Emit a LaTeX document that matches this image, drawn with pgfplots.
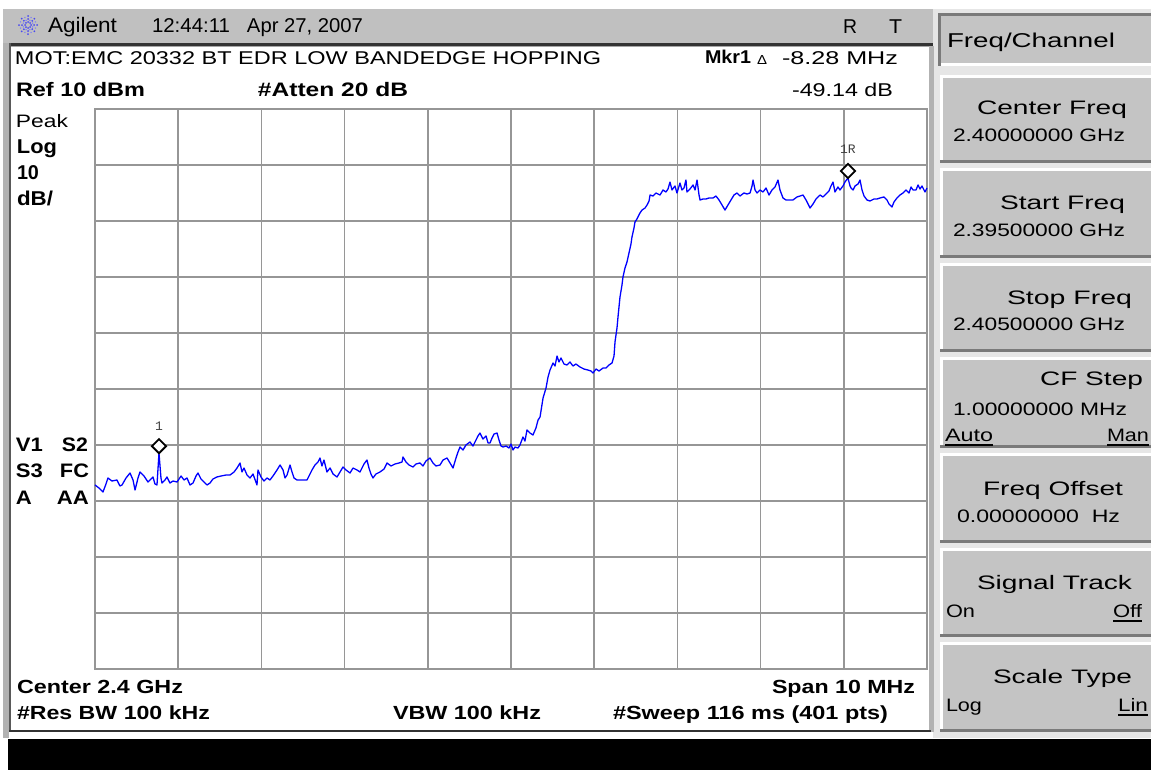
\documentclass[border=0pt]{standalone}
\usepackage{pgfplots}
\pgfplotsset{compat=1.18}
\usepackage{graphicx}
\usepackage{fontspec}
\setmainfont{Liberation Sans}
\newfontfamily\mono{Liberation Mono}
\definecolor{gridgray}{HTML}{969696}
\definecolor{bargray}{HTML}{C0C0C0}
\definecolor{panelgray}{HTML}{E6E6E6}
\definecolor{btngray}{HTML}{C4C4C4}
\definecolor{darkedge}{HTML}{7A7A7A}
\definecolor{traceblue}{HTML}{0000FF}
\definecolor{logoblue}{HTML}{4A4AF0}
\definecolor{markgray}{HTML}{404040}
\newcommand\fs[1]{\fontsize{#1bp}{#1bp}\selectfont}
\newcommand\tx[4]{\node[anchor=base west,inner sep=0pt,outer sep=0pt] at (#1,#2) {\resizebox{#3bp}{\height}{#4}};}
\newcommand\btn[2]{%
  \fill[btngray] (940,#1) rectangle (1151,#2);
  \fill[white] (940,#1) rectangle (1151,#1+3);
  \fill[white] (940,#1) rectangle (943,#2);
  \fill[darkedge] (940,#2-3) rectangle (1151,#2);}
\begin{document}
\begin{tikzpicture}
\useasboundingbox (0,0) rectangle (1151bp,-770bp);
\begin{scope}[x=1bp,y=-1bp]
\fill[white] (0,0) rectangle (1151,770);
% right soft-key panel
\fill[panelgray] (933,9) rectangle (1151,738);
\fill[btngray] (938,13) rectangle (1151,66);
\fill[darkedge] (938,13) rectangle (1151,16);
\fill[darkedge] (938,13) rectangle (941,66);
\fill[white] (941,63) rectangle (1151,66);
\btn{75}{163}
\btn{168}{258}
\btn{263}{352}
\btn{357}{448}
\btn{453}{543}
\btn{548}{637}
\btn{642}{732}
% title bar and frame
\fill[bargray] (3,9) rectangle (933,43);
\fill[black!80] (9,43) rectangle (933,46);
\fill[black!35] (9,46) rectangle (933,47);
\fill[black!30] (3,43) rectangle (9,738);
\fill[black!65] (9,43) rectangle (11,732);
\fill[black!30] (929,46) rectangle (934,732);
\fill[black!80] (9,730) rectangle (931,732);
\fill[black] (8,739) rectangle (1151,770);
% logo
\foreach \a in {0,45,...,315} {
  \foreach \r in {3,6,9} {\fill[logoblue] (28,25) ++(\a:\r) circle (1);}}
\foreach \a in {22.5,67.5,...,337.5} {
  \foreach \r in {5,8} {\fill[logoblue!70] (28,25) ++(\a:\r) circle (0.8);}}
\end{scope}
\begin{axis}[at={(95bp,-669bp)}, anchor=south west, scale only axis,
  width=832bp, height=560bp, xmin=0, xmax=10, ymin=-90, ymax=10,
  xtick={0,1,...,10}, ytick={-90,-80,...,10},
  xticklabels={}, yticklabels={}, major tick length=0pt, tick style={draw=none},
  grid=major, grid style={draw=gridgray, line width=1.7bp},
  axis line style={draw=gridgray, line width=2.2bp}, clip=false]
% frequency in MHz above the start frequency 2.395 GHz, level in dBm
\addplot[color=traceblue, line width=1.3bp, line join=round] coordinates {
(0.000,-57.14) (0.048,-57.68) (0.096,-58.39) (0.132,-56.96) (0.156,-55.89)
(0.204,-56.43) (0.264,-56.25) (0.300,-57.32) (0.325,-57.14) (0.373,-55.89)
(0.421,-55.00) (0.457,-56.25) (0.481,-58.04) (0.517,-55.89) (0.541,-54.82)
(0.589,-55.54) (0.637,-56.61) (0.673,-56.07) (0.697,-55.71) (0.721,-56.96)
(0.745,-57.14) (0.769,-51.46) (0.793,-55.89) (0.805,-56.79) (0.841,-56.25)
(0.865,-55.71) (0.901,-56.79) (0.938,-56.43) (0.986,-56.61) (1.034,-55.54)
(1.070,-56.25) (1.106,-55.89) (1.142,-57.14) (1.178,-56.79) (1.214,-55.54)
(1.238,-55.00) (1.274,-56.07) (1.310,-56.61) (1.346,-57.14) (1.382,-56.79)
(1.418,-56.07) (1.466,-55.71) (1.514,-55.54) (1.575,-55.36) (1.623,-55.36)
(1.671,-54.82) (1.707,-54.11) (1.743,-53.21) (1.767,-54.82) (1.791,-54.11)
(1.827,-55.36) (1.863,-55.89) (1.899,-55.18) (1.947,-57.14) (1.959,-54.46)
(1.995,-55.71) (2.031,-56.43) (2.067,-55.89) (2.103,-56.25) (2.139,-55.54)
(2.188,-54.46) (2.224,-53.57) (2.260,-54.46) (2.284,-55.89) (2.308,-55.36)
(2.344,-53.57) (2.368,-54.82) (2.392,-55.89) (2.428,-56.25) (2.464,-56.25)
(2.512,-56.25) (2.548,-56.25) (2.584,-55.18) (2.608,-54.46) (2.644,-53.57)
(2.680,-53.04) (2.704,-52.32) (2.728,-53.75) (2.752,-52.68) (2.788,-54.82)
(2.825,-54.11) (2.861,-55.18) (2.909,-55.71) (2.945,-54.82) (2.981,-53.93)
(3.017,-54.46) (3.065,-55.00) (3.101,-54.11) (3.149,-54.46) (3.185,-54.82)
(3.233,-53.39) (3.269,-52.68) (3.293,-54.11) (3.317,-55.18) (3.341,-55.89)
(3.377,-55.18) (3.425,-54.82) (3.474,-54.29) (3.510,-53.21) (3.558,-53.75)
(3.606,-53.39) (3.654,-53.21) (3.690,-53.04) (3.702,-52.14) (3.738,-53.04)
(3.774,-53.57) (3.822,-53.93) (3.858,-53.39) (3.906,-53.21) (3.942,-53.75)
(3.978,-52.86) (4.026,-52.32) (4.062,-53.21) (4.099,-53.75) (4.147,-53.57)
(4.183,-52.68) (4.231,-52.32) (4.267,-53.21) (4.303,-54.11) (4.339,-52.32)
(4.363,-51.25) (4.387,-50.36) (4.423,-50.89) (4.459,-50.00) (4.507,-49.46)
(4.543,-50.18) (4.579,-49.11) (4.603,-48.39) (4.627,-47.86) (4.663,-48.93)
(4.700,-48.39) (4.724,-49.64) (4.748,-49.64) (4.772,-48.75) (4.796,-48.04)
(4.832,-47.86) (4.856,-49.11) (4.880,-50.18) (4.904,-50.36) (4.940,-50.18)
(4.976,-50.54) (5.000,-49.82) (5.024,-50.89) (5.048,-50.36) (5.084,-50.54)
(5.108,-50.00) (5.144,-48.57) (5.168,-49.29) (5.192,-47.32) (5.228,-47.86)
(5.264,-48.21) (5.300,-46.96) (5.325,-45.54) (5.349,-45.00) (5.385,-41.61)
(5.421,-39.82) (5.445,-37.86) (5.469,-36.61) (5.505,-35.36) (5.529,-35.89)
(5.553,-34.11) (5.577,-35.18) (5.601,-34.46) (5.637,-35.54) (5.673,-35.71)
(5.709,-35.18) (5.745,-35.89) (5.781,-35.54) (5.829,-36.07) (5.877,-36.43)
(5.925,-36.61) (5.962,-36.79) (5.986,-37.14) (6.022,-36.43) (6.058,-36.79)
(6.106,-36.25) (6.142,-36.25) (6.178,-35.71) (6.214,-35.36) (6.238,-34.11)
(6.250,-31.61) (6.274,-29.11) (6.286,-27.14) (6.298,-25.36) (6.310,-23.57)
(6.334,-21.43) (6.346,-20.00) (6.370,-18.39) (6.394,-17.32) (6.418,-15.71)
(6.442,-14.11) (6.454,-12.86) (6.478,-11.25) (6.490,-10.18) (6.514,-9.64)
(6.550,-8.57) (6.575,-8.04) (6.611,-7.68) (6.635,-7.14) (6.659,-6.43)
(6.671,-5.36) (6.707,-5.54) (6.743,-5.00) (6.791,-5.36) (6.827,-4.46)
(6.863,-4.82) (6.887,-4.29) (6.911,-3.04) (6.935,-4.46) (6.971,-3.75)
(6.995,-5.00) (7.031,-3.21) (7.055,-4.46) (7.079,-4.11) (7.103,-2.68)
(7.115,-4.82) (7.151,-4.29) (7.188,-3.57) (7.212,-4.46) (7.236,-2.68)
(7.260,-5.36) (7.272,-6.25) (7.308,-6.07) (7.344,-6.07) (7.380,-5.89)
(7.428,-5.89) (7.464,-5.54) (7.500,-6.25) (7.536,-7.14) (7.572,-8.04)
(7.608,-7.14) (7.644,-6.25) (7.680,-5.36) (7.716,-5.00) (7.752,-5.54)
(7.800,-5.00) (7.837,-5.18) (7.873,-5.00) (7.897,-3.75) (7.909,-2.68)
(7.933,-4.46) (7.957,-5.00) (7.993,-4.46) (8.029,-4.82) (8.065,-4.11)
(8.101,-5.36) (8.137,-4.46) (8.173,-3.93) (8.209,-2.68) (8.233,-4.46)
(8.269,-5.89) (8.305,-6.25) (8.353,-6.25) (8.389,-6.25) (8.437,-5.71)
(8.474,-5.54) (8.510,-5.36) (8.546,-6.25) (8.594,-7.68) (8.630,-6.96)
(8.666,-6.07) (8.714,-5.36) (8.750,-5.71) (8.786,-5.18) (8.822,-4.64)
(8.846,-3.75) (8.870,-3.04) (8.894,-4.82) (8.930,-3.93) (8.954,-4.46)
(8.990,-3.75) (9.014,-3.04) (9.050,-2.32) (9.075,-3.75) (9.087,-4.11)
(9.111,-4.46) (9.135,-3.75) (9.171,-3.39) (9.195,-2.68) (9.219,-4.46)
(9.243,-5.54) (9.279,-6.25) (9.315,-6.43) (9.363,-6.07) (9.399,-6.07)
(9.435,-5.89) (9.483,-5.71) (9.519,-6.25) (9.543,-6.96) (9.579,-7.50)
(9.603,-6.61) (9.639,-5.89) (9.675,-5.36) (9.712,-5.00) (9.748,-4.46)
(9.784,-5.00) (9.808,-3.93) (9.832,-4.46) (9.868,-4.46) (9.892,-3.57)
(9.916,-4.29) (9.940,-3.75) (9.976,-4.82) (10.000,-4.11)
};
% markers 1 and 1R
\addplot[only marks, mark=square*, mark size=5bp,
  mark options={draw=black, fill=white, line width=1.8bp, yshift=7bp, rotate=45}]
  coordinates {(0.769,-51.46) (9.050,-2.32)};
\node[text=markgray, font=\mono\fs{13}, yshift=27bp] at (axis cs:0.769,-51.46) {1};
\node[text=markgray, font=\mono\fs{13}, yshift=29bp] at (axis cs:9.050,-2.32) {1R};
\end{axis}
\begin{scope}[x=1bp,y=-1bp]
% title bar
\tx{48}{33}{69}{\fs{21}Agilent}
\tx{152}{33}{78}{\fs{20}12:44:11}
\tx{247}{33}{116}{\fs{20}Apr 27, 2007}
\tx{843}{33}{14}{\fs{20}R}
\tx{889}{33}{13}{\fs{20}T}
% header
\tx{15}{64}{586}{\fs{18.5}MOT:EMC 20332 BT EDR LOW BANDEDGE HOPPING}
\tx{705}{64}{46}{\fs{18.5}\bfseries Mkr1}
\tx{757}{64}{10}{\fs{13}Δ}
\tx{782}{64}{116}{\fs{18.5}-8.28 MHz}
\tx{16}{97}{129}{\fs{19.5}\bfseries Ref 10 dBm}
\tx{258}{97}{150}{\fs{19.5}\bfseries \#Atten 20 dB}
\tx{792}{97}{101}{\fs{18.5}-49.14 dB}
% left annotations
\tx{16}{127}{52}{\fs{18}Peak}
\tx{17}{153}{40}{\fs{20}\bfseries Log}
\tx{17}{180}{22}{\fs{20}\bfseries 10}
\tx{17}{206}{36}{\fs{20}\bfseries dB/}
\tx{16}{451}{27}{\fs{19.5}\bfseries V1}
\tx{62}{451}{26}{\fs{19.5}\bfseries S2}
\tx{16}{477}{27}{\fs{19.5}\bfseries S3}
\tx{60}{477}{29}{\fs{19.5}\bfseries FC}
\tx{16}{504}{16}{\fs{19.5}\bfseries A}
\tx{57}{504}{32}{\fs{19.5}\bfseries AA}
% footer
\tx{17}{693}{166}{\fs{19}\bfseries Center 2.4 GHz}
\tx{772}{693}{143}{\fs{19}\bfseries Span 10 MHz}
\tx{17}{719}{193}{\fs{19}\bfseries \#Res BW 100 kHz}
\tx{393}{719}{148}{\fs{19}\bfseries VBW 100 kHz}
\tx{613}{719}{275}{\fs{19}\bfseries \#Sweep 116 ms (401 pts)}
% soft keys
\tx{947}{48}{168}{\fs{20}Freq/Channel}
\tx{977}{114}{150}{\fs{19.5}Center Freq}
\tx{953}{142}{172}{\fs{18}2.40000000 GHz}
\tx{1000}{209}{125}{\fs{19.5}Start Freq}
\tx{953}{237}{172}{\fs{18}2.39500000 GHz}
\tx{1007}{304}{125}{\fs{19.5}Stop Freq}
\tx{953}{331}{172}{\fs{18}2.40500000 GHz}
\tx{1040}{385}{103}{\fs{19.5}CF Step}
\tx{953}{415}{174}{\fs{18}1.00000000 MHz}
\tx{945}{441}{48}{\fs{18}Auto}
\tx{1107}{441}{42}{\fs{18}Man}
\tx{983}{495}{140}{\fs{19.5}Freq Offset}
\tx{957}{522}{163}{\fs{18}0.00000000~~Hz}
\tx{977}{589}{155}{\fs{19.5}Signal Track}
\tx{946}{617}{29}{\fs{18}On}
\tx{1113}{617}{29}{\fs{18}Off}
\tx{993}{683}{139}{\fs{19.5}Scale Type}
\tx{946}{711}{36}{\fs{18}Log}
\tx{1118}{711}{30}{\fs{18}Lin}
\fill (945,444) rectangle (993,446);
\fill (1107,444) rectangle (1149,446);
\fill (1113,620) rectangle (1142,622);
\fill (1118,714) rectangle (1148,716);
\end{scope}
\end{tikzpicture}
\end{document}
